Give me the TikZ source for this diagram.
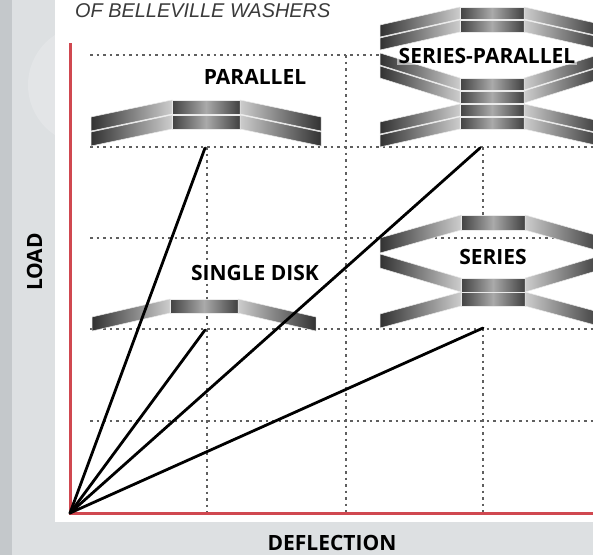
\documentclass[tikz,border=0pt]{standalone}
\usepackage{fontspec}
\setmainfont{Open Sans}
\newfontfamily\titlefont{Liberation Sans}
\definecolor{bgout}{RGB}{221,224,226}
\definecolor{bgstrip}{RGB}{196,200,203}
\definecolor{bgcirc}{RGB}{227,229,231}
\definecolor{axisred}{RGB}{208,72,80}
\definecolor{gridgray}{RGB}{95,95,95}
\definecolor{titlegray}{RGB}{58,58,58}
\definecolor{wdark}{RGB}{50,50,50}
\definecolor{wflatdark}{RGB}{65,65,65}
\definecolor{wmid}{RGB}{170,170,170}
\definecolor{wlight}{RGB}{205,205,205}
\definecolor{wedge}{RGB}{235,235,235}
\newcommand\washer[6]{%
 \shadedraw[left color=wflatdark,right color=wflatdark,middle color=wmid,draw=wedge,line width=0.5pt]
 ({#1-#6},{#2}) -- ({#1+#6},{#2}) -- ({#1+#6},{#2+#3}) -- ({#1-#6},{#2+#3}) -- cycle;
 \shadedraw[left color=wdark,right color=wlight,draw=wedge,line width=0.5pt]
 ({#1-#5},{#2+#4}) -- ({#1-#6},{#2}) -- ({#1-#6},{#2+#3}) -- ({#1-#5},{#2+#4+#3}) -- cycle;
 \shadedraw[left color=wlight,right color=wdark,draw=wedge,line width=0.5pt]
 ({#1+#6},{#2}) -- ({#1+#5},{#2+#4}) -- ({#1+#5},{#2+#4+#3}) -- ({#1+#6},{#2+#3}) -- cycle;
}
\begin{document}
\begin{tikzpicture}[x=1pt,y=-1pt,
  gridline/.style={draw=gridgray,line width=1.2pt,dash pattern=on 2.5pt off 4pt},
  redaxis/.style={draw=axisred,line width=3pt},
  ray/.style={draw=black,line width=2.8pt,line cap=round},
  lbl/.style={font=\bfseries\fontsize{21}{21}\selectfont,inner sep=1.5pt,text=black}]
\useasboundingbox (0,0) rectangle (593,555);
\clip (0,0) rectangle (593,555);
% background
\fill[bgout] (0,0) rectangle (593,555);
\fill[bgstrip] (0,0) rectangle (12,555);
\fill[bgcirc] (88,85) circle (60);
\fill[white] (55,0) rectangle (593,522);
% title
\node[anchor=base west,inner sep=0,text=titlegray,font=\titlefont\itshape\fontsize{19.9}{20}\selectfont] (title) at (75,17) {OF BELLEVILLE WASHERS};
% grid
\draw[gridline] (90,55) -- (380,55);
\draw[gridline] (90,147) -- (593,147);
\draw[gridline] (90,238) -- (593,238);
\draw[gridline] (90,329) -- (593,329);
\draw[gridline] (90,421) -- (593,421);
\draw[gridline] (207,147) -- (207,513);
\draw[gridline] (346,55) -- (346,513);
\draw[gridline] (483,147) -- (483,215);
\draw[gridline] (483,328) -- (483,513);
% axes
\coordinate (O) at (70,513);
\coordinate (ytop) at (70,43);
\coordinate (xend) at (593,513);
\draw[redaxis] (ytop) -- (O) -- (xend);
% washers: parallel
\washer{206}{100}{14}{17}{115}{34}
\washer{206}{115}{14}{17}{115}{34}
% single disk
\washer{204}{299}{14}{18}{112}{34}
% series-parallel
\washer{492}{7}{12}{18}{112}{32}
\washer{492}{20}{12}{18}{112}{32}
\washer{492}{78}{12}{-25}{112}{32}
\washer{492}{91}{12}{-25}{112}{32}
\washer{492}{104}{12}{18}{112}{32}
\washer{492}{117}{12}{18}{112}{32}
% series
\washer{493}{215}{15}{23}{113}{32}
\washer{493}{278}{14}{-24}{113}{32}
\washer{493}{292}{14}{22}{113}{32}
% rays
\coordinate (pend) at (205,148);
\coordinate (send) at (205,330);
\coordinate (spend) at (480,148);
\coordinate (srend) at (483,328);
\draw[ray] (O) -- (pend);
\draw[ray] (O) -- (send);
\draw[ray] (O) -- (spend);
\draw[ray] (O) -- (srend);
% labels
\node[lbl,fill=white,anchor=base] (lpar) at (255,84) {PARALLEL};
\node[lbl,fill=white,anchor=base] (lsingle) at (255,280) {SINGLE DISK};
\node[lbl,anchor=base] (lseries) at (493,264) {SERIES};
\node[lbl,fill=white,fill opacity=0.55,text opacity=1,anchor=base] (lsp) at (487,63) {SERIES-PARALLEL};
\node[lbl,anchor=base] (ldefl) at (332,550) {DEFLECTION};
\node[lbl,anchor=base,rotate=90] (lload) at (42,262) {LOAD};
\end{tikzpicture}
\end{document}
